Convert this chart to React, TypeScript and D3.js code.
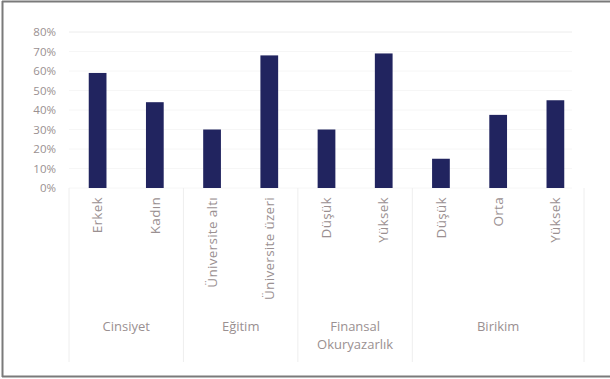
import React from "react";
import * as d3 from "d3";

// Share of respondents by demographic group
const groups = ["Cinsiyet", "Eğitim", "Finansal\nOkuryazarlık", "Birikim"];
const categories = [
  "Erkek",
  "Kadın",
  "Üniversite altı",
  "Üniversite üzeri",
  "Düşük",
  "Yüksek",
  "Düşük",
  "Orta",
  "Yüksek",
];
const categoryGroup = [0, 0, 1, 1, 2, 2, 3, 3, 3];
const values = [0.59, 0.44, 0.3, 0.68, 0.3, 0.69, 0.15, 0.375, 0.45];
const yTicks = [0, 0.1, 0.2, 0.3, 0.4, 0.5, 0.6, 0.7, 0.8];

const W = 610;
const H = 379;
const TEXT = "#9a9091";
const BAR = "#21245f";

export default function App() {
  const x = d3
    .scaleBand<number>()
    .domain(d3.range(categories.length))
    .range([69, 584])
    .paddingInner(0.69)
    .paddingOuter(0.345);
  const y = d3.scaleLinear().domain([0, 0.8]).range([188, 32]);
  const fmt = d3.format(".0%");

  // group boundaries on the band scale
  const step = x.step();
  const left0 = x(0)! - (step - x.bandwidth()) / 2;
  const boundaries: number[] = [left0];
  const groupCenters: number[] = [];
  groups.forEach((_, g) => {
    const idx = categoryGroup.map((c, i) => (c === g ? i : -1)).filter((i) => i >= 0);
    const start = left0 + idx[0] * step;
    const end = left0 + (idx[idx.length - 1] + 1) * step;
    boundaries.push(end);
    groupCenters.push((start + end) / 2);
  });

  return (
    <svg
      width={W}
      height={H}
      style={{ position: "absolute", left: 0, top: 0, background: "#fff" }}
      fontFamily="'Open Sans', 'Liberation Sans', sans-serif"
    >
      {/* frame */}
      <line x1={2.5} x2={2.5} y1={1} y2={377} stroke="#7a7a7a" strokeWidth={2} />
      <line x1={2} x2={W} y1={1.5} y2={1.5} stroke="#7a7a7a" strokeWidth={2} />
      <line x1={2} x2={W} y1={376.5} y2={376.5} stroke="#7a7a7a" strokeWidth={2} />

      {/* gridlines */}
      {yTicks.map((t) => (
        <line
          key={t}
          x1={69}
          x2={572}
          y1={y(t)}
          y2={y(t)}
          stroke={t === 0.8 ? "#ececec" : "#f6f6f6"}
        />
      ))}

      {/* y tick labels */}
      {yTicks.map((t) => (
        <text
          key={t}
          x={56}
          y={y(t)}
          dy="0.35em"
          textAnchor="end"
          fontSize={11.5}
          fill={TEXT}
        >
          {fmt(t)}
        </text>
      ))}

      {/* group separators */}
      {boundaries.map((b, i) => (
        <line key={i} x1={b} x2={b} y1={188} y2={362} stroke="#eeeeee" />
      ))}

      {/* bars */}
      {values.map((v, i) => (
        <rect
          key={i}
          x={x(i)}
          y={y(v)}
          width={x.bandwidth()}
          height={y(0) - y(v)}
          fill={BAR}
        />
      ))}

      {/* category labels */}
      {categories.map((c, i) => {
        const cx = x(i)! + x.bandwidth() / 2;
        return (
          <text
            key={i}
            transform={`translate(${cx},197) rotate(-90)`}
            textAnchor="end"
            dy="0.35em"
            fontSize={13.5}
            letterSpacing={0.3}
            fill={TEXT}
          >
            {c}
          </text>
        );
      })}

      {/* group labels */}
      {groups.map((g, i) => (
        <text
          key={g}
          x={groupCenters[i]}
          y={326}
          textAnchor="middle"
          fontSize={13}
          fill={TEXT}
        >
          {g.split("\n").map((line, j) => (
            <tspan key={j} x={groupCenters[i]} dy={j === 0 ? "0.35em" : 18}>
              {line}
            </tspan>
          ))}
        </text>
      ))}
    </svg>
  );
}
